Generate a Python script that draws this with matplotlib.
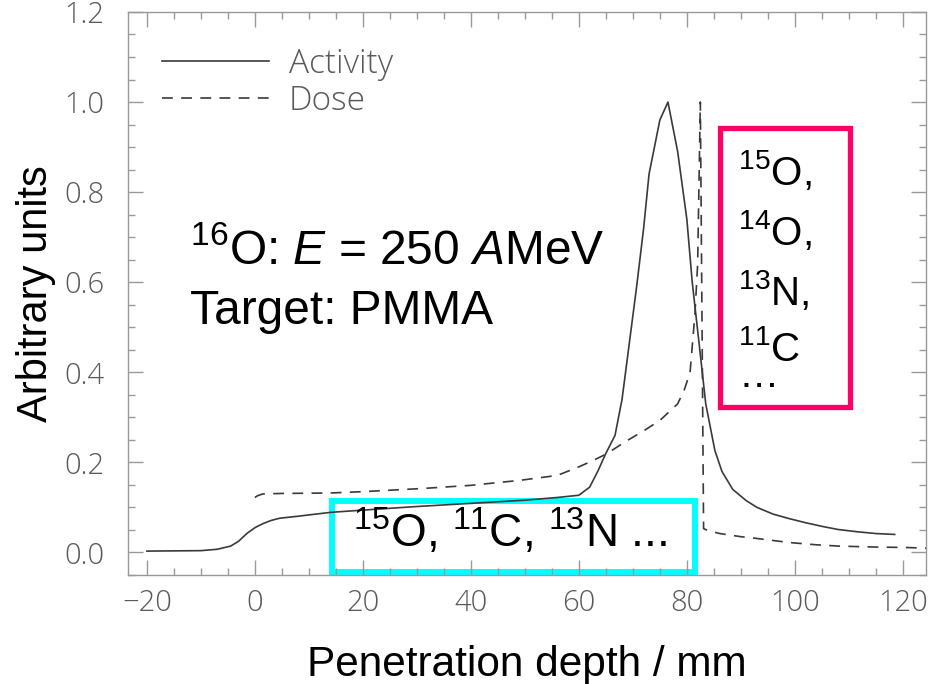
import numpy as np
import matplotlib
matplotlib.use("Agg")
import matplotlib.pyplot as plt
from matplotlib.patches import Rectangle
from matplotlib.ticker import MultipleLocator, FormatStrFormatter

# activity profile (solid)
act_x = [-20, -10, -7, -4.5, -3, -1.5, 0, 1.5, 3, 4.6, 7.7, 14, 20, 30, 40,
         50, 56, 60, 62, 63.5, 65, 66.7, 68, 70.7, 72, 73, 75, 76.5, 78.3, 80,
         81, 82.4, 83.5, 85.2, 86.5, 88.5, 91, 93, 96, 99, 102, 105, 108,
         111.5, 115, 118.5]
act_y = [0.003, 0.004, 0.007, 0.014, 0.025, 0.042, 0.055, 0.064, 0.071, 0.076,
         0.080, 0.089, 0.094, 0.102, 0.109, 0.116, 0.122, 0.127, 0.145, 0.18,
         0.22, 0.26, 0.34, 0.59, 0.72, 0.84, 0.96, 1.0, 0.89, 0.74, 0.60,
         0.45, 0.33, 0.226, 0.18, 0.14, 0.115, 0.10, 0.085, 0.075, 0.066,
         0.058, 0.051, 0.046, 0.042, 0.040]

# dose profile (dashed)
dose_x = [0, 0.5, 1.5, 5, 14, 20, 31, 40, 49, 56, 60, 62.6, 65, 68.9, 72, 75,
          78.3, 79.5, 80.6, 81.5, 82, 82.5, 83.1, 84, 86.1, 90, 93, 99, 104,
          108.3, 115, 120.7, 125]
dose_y = [0.122, 0.126, 0.130, 0.131, 0.132, 0.135, 0.142, 0.149, 0.160,
          0.171, 0.190, 0.204, 0.218, 0.248, 0.270, 0.293, 0.330, 0.360,
          0.400, 0.530, 0.640, 1.0, 0.053, 0.048, 0.042, 0.035, 0.031, 0.022,
          0.017, 0.014, 0.012, 0.011, 0.009]

title_lines = [r"$^{16}$O: $E$ = 250 $A$MeV", "Target: PMMA"]
box1_text = r"$^{15}$O, $^{11}$C, $^{13}$N ..."
box2_lines = [r"$^{15}$O,", r"$^{14}$O,", r"$^{13}$N,", r"$^{11}$C" + "\n\u2026"]

plt.rcParams["mathtext.fontset"] = "custom"
plt.rcParams["mathtext.rm"] = "Liberation Sans"
plt.rcParams["mathtext.it"] = "Liberation Sans:italic"
plt.rcParams["mathtext.bf"] = "Liberation Sans:bold"

gray = "#5a5a5a"
tick_font = ["Open Sans", "DejaVu Sans"]
fig = plt.figure(figsize=(9.37, 6.84), dpi=100)
ax = fig.add_axes([0.1366, 0.1594, 0.8517, 0.8231])

ax.plot(act_x, act_y, color="#3a3a3a", lw=1.2, label="Activity")
ax.plot(dose_x, dose_y, color="#3a3a3a", lw=1.2, dashes=(6.5, 5), label="Dose")

ax.set_xlim(-23.5, 124.3)
ax.set_ylim(-0.05, 1.2)
ax.xaxis.set_major_locator(MultipleLocator(20))
ax.xaxis.set_minor_locator(MultipleLocator(5))
ax.yaxis.set_major_locator(MultipleLocator(0.2))
ax.yaxis.set_minor_locator(MultipleLocator(0.05))
ax.yaxis.set_major_formatter(FormatStrFormatter("%.1f"))

for s in ax.spines.values():
    s.set_color("#999999")
    s.set_linewidth(1.0)
ax.tick_params(which="both", direction="in", top=True, right=True,
               color="#999999", width=1.0)
ax.tick_params(which="major", length=11)
ax.tick_params(which="minor", length=5)
ax.tick_params(axis="y", which="major", pad=17)
ax.tick_params(axis="x", which="major", pad=10)
for lab in ax.get_xticklabels() + ax.get_yticklabels():
    lab.set_fontfamily(tick_font)
    lab.set_fontweight("light")
    lab.set_fontsize(21)
    lab.set_color(gray)

ax.set_xlabel("Penetration depth / mm", fontsize=30.5, family="Liberation Sans",
              labelpad=19)
ax.set_ylabel("Arbitrary units", fontsize=30, family="Liberation Sans",
              labelpad=6)

leg = ax.legend(loc="upper left", bbox_to_anchor=(0.043, 0.937), frameon=False,
                handlelength=3.2, handletextpad=0.6, borderpad=0,
                borderaxespad=0, labelspacing=0.1,
                prop={"family": tick_font, "weight": "light", "size": 24})
for t in leg.get_texts():
    t.set_color(gray)

# beam annotation
for i, line in enumerate(title_lines):
    ax.text(0.078, 0.552 - i * 0.1066, line, transform=ax.transAxes,
            fontsize=34.5, family="Liberation Sans", va="baseline", ha="left")

# cyan box
ax.add_patch(Rectangle((0.2556, 0.0053), 0.4549, 0.1261, transform=ax.transAxes,
                       fill=False, ec="#00FFFF", lw=4.3, clip_on=False))
ax.text(0.4787, 0.05, box1_text, transform=ax.transAxes, fontsize=33,
        family="Liberation Sans", va="baseline", ha="center")

# magenta box (last entry holds two lines, anchored at the lower one)
ax.add_patch(Rectangle((0.7419, 0.2984), 0.1629, 0.4956, transform=ax.transAxes,
                       fill=False, ec="#FF0066", lw=3.8, clip_on=False))
ys = [0.6927, 0.5861, 0.4796, 0.334]
for line, y in zip(box2_lines, ys):
    ax.text(0.765, y, line, transform=ax.transAxes, fontsize=29,
            family="Liberation Sans", va="baseline", ha="left",
            linespacing=0.6)

fig.savefig("out.png", dpi=100)
